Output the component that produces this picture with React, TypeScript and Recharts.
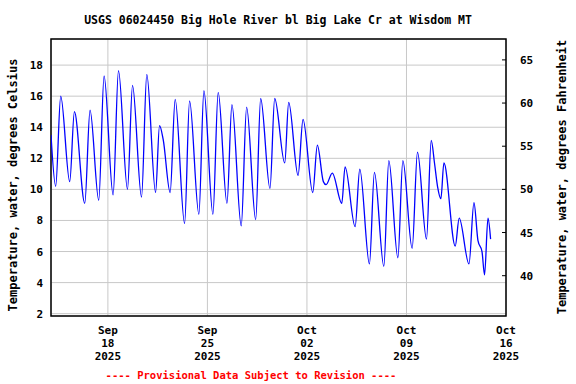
import React from 'react';
import { LineChart, Line, XAxis, YAxis, CartesianGrid, ReferenceArea } from 'recharts';

// hours since 2025-09-14 00:00 (local)
const hours = [
  0, 7.9, 16.4, 31.6, 39.5, 57.0, 65.9, 80.6, 89.6, 104.8, 113.9, 129.1, 137.6, 152.8, 161.7,
  176.5, 183.2, 189.4, 201.1, 209.6, 225.5, 233.9, 249.6, 258.1, 273.3, 282.2, 297.0, 305.4,
  321.1, 330.2, 345.5, 353.9, 369.6, 377.6, 394.5, 401.2, 417.0, 425.4, 441.8, 449.6, 459.7,
  464.3, 474.9, 490.8, 496.4, 513.3, 521.2, 537.5, 545.9, 561.8, 570.2, 585.5, 593.9, 609.6,
  618.6, 633.8, 641.8, 647.3, 652.4, 658.1, 663.2, 682.3, 689.0, 705.5, 713.9, 720.7, 727.5,
  731.8, 737.6, 742.0,
];
// water temperature, degrees Celsius
const tempC = [
  13.5, 10.2, 16.0, 10.5, 15.0, 9.1, 15.1, 9.3, 17.3, 9.65, 17.65, 10.0, 16.7, 9.5, 17.4,
  9.8, 14.1, 13.2, 9.8, 15.8, 7.8, 15.7, 8.4, 16.35, 8.4, 16.25, 9.1, 15.45,
  7.65, 15.3, 8.05, 15.85, 10.05, 15.85, 11.7, 15.6, 10.9, 14.5, 9.8, 12.85, 10.5,
  10.3, 11.05, 9.1, 11.45, 7.6, 11.3, 5.2, 11.1, 5.05, 11.85, 5.6, 11.85, 6.2,
  12.4, 6.8, 13.15, 11.7, 10.2, 9.4, 11.7, 6.35, 8.15, 5.2, 9.15, 6.7, 6.0,
  4.5, 8.15, 6.8,
];

const xTicks = [96, 264, 432, 600, 768];
const xTickMonths = ['Sep', 'Sep', 'Oct', 'Oct', 'Oct'];
const xTickDays = ['18', '25', '02', '09', '16'];
const xTickYears = ['2025', '2025', '2025', '2025', '2025'];
const cTicks = [2, 4, 6, 8, 10, 12, 14, 16, 18];
const fTicks = [40, 45, 50, 55, 60, 65];
const cDomain: [number, number] = [1.85, 19.68];
const fDomain: [number, number] = [35.33, 67.42];
const xDomain: [number, number] = [0, 768];

const data = hours.map((h, i) => ({ h, c: tempC[i] }));

const FONT = '"DejaVu Sans Mono", "Liberation Mono", monospace';

const XTick = (props: any) => {
  const { x, y, payload } = props;
  const i = xTicks.indexOf(payload.value);
  return (
    <text x={x} y={y} textAnchor="middle" fontFamily={FONT} fontWeight="bold" fontSize={11} fill="#000">
      <tspan x={x} dy={18}>{xTickMonths[i]}</tspan>
      <tspan x={x} dy={13}>{xTickDays[i]}</tspan>
      <tspan x={x} dy={13}>{xTickYears[i]}</tspan>
    </text>
  );
};

const CTick = (props: any) => {
  const { x, y, payload } = props;
  return (
    <text x={x} y={y} dy={4} textAnchor="end" fontFamily={FONT} fontWeight="bold" fontSize={11} fill="#000">
      {payload.value}
    </text>
  );
};

const F_MARGIN = 14;
const FTick = (props: any) => {
  const { x, y, payload } = props;
  return (
    <g>
      <line x1={x - F_MARGIN - 4} x2={x - F_MARGIN} y1={y} y2={y} stroke="#000" strokeWidth={1} />
      <text x={x} y={y} dy={4} textAnchor="start" fontFamily={FONT} fontWeight="bold" fontSize={11} fill="#000">
        {payload.value}
      </text>
    </g>
  );
};

export default function App() {
  return (
    <div style={{ position: 'absolute', left: 0, top: 0, width: 576, height: 384, background: '#fff' }}>
      <LineChart
        width={576}
        height={384}
        data={data}
        margin={{ top: 39, right: 0, left: 0, bottom: 18 }}
      >
        <CartesianGrid stroke="#c8c8c8" strokeWidth={1} yAxisId="left" />
        <XAxis
          dataKey="h"
          type="number"
          domain={xDomain}
          ticks={xTicks}
          allowDataOverflow
          axisLine={false}
          tickLine={false}
          tickSize={0}
          tickMargin={0}
          height={50}
          tick={<XTick />}
          interval={0}
        />
        <YAxis
          yAxisId="left"
          orientation="left"
          type="number"
          domain={cDomain}
          ticks={cTicks}
          allowDataOverflow
          width={51}
          axisLine={false}
          tickLine={false}
          tickSize={0}
          tickMargin={8}
          tick={<CTick />}
          interval={0}
        />
        <YAxis
          yAxisId="right"
          orientation="right"
          type="number"
          domain={fDomain}
          ticks={fTicks}
          allowDataOverflow
          width={70}
          axisLine={false}
          tickLine={false}
          tickSize={0}
          tickMargin={F_MARGIN}
          tick={<FTick />}
          interval={0}
        />
        <Line
          yAxisId="left"
          type="monotone"
          dataKey="c"
          stroke="#0000ff"
          strokeWidth={1.3}
          dot={false}
          isAnimationActive={false}
        />
        <ReferenceArea
          yAxisId="left"
          x1={xDomain[0]}
          x2={xDomain[1]}
          y1={cDomain[0]}
          y2={cDomain[1]}
          fill="none"
          fillOpacity={0}
          stroke="#000"
          strokeWidth={1.5}
          ifOverflow="visible"
        />
      </LineChart>
      <svg width={576} height={384} style={{ position: 'absolute', left: 0, top: 0, pointerEvents: 'none' }}>
        <text x={278} y={24} textAnchor="middle" fontFamily={FONT} fontWeight="bold" fontSize={11.5} fill="#000">
          USGS 06024450 Big Hole River bl Big Lake Cr at Wisdom MT
        </text>
        <text
          x={13}
          y={185}
          textAnchor="middle"
          dominantBaseline="central"
          transform="rotate(-90 13 185)"
          fontFamily={FONT}
          fontWeight="bold"
          fontSize={12}
          fill="#000"
        >
          Temperature, water, degrees Celsius
        </text>
        <text
          x={562}
          y={177}
          textAnchor="middle"
          dominantBaseline="central"
          transform="rotate(-90 562 177)"
          fontFamily={FONT}
          fontWeight="bold"
          fontSize={12}
          fill="#000"
        >
          Temperature, water, degrees Fahrenheit
        </text>
        <text x={251} y={379} textAnchor="middle" fontFamily={FONT} fontWeight="bold" fontSize={10.5} fill="#ff0000">
          ---- Provisional Data Subject to Revision ----
        </text>
      </svg>
    </div>
  );
}
